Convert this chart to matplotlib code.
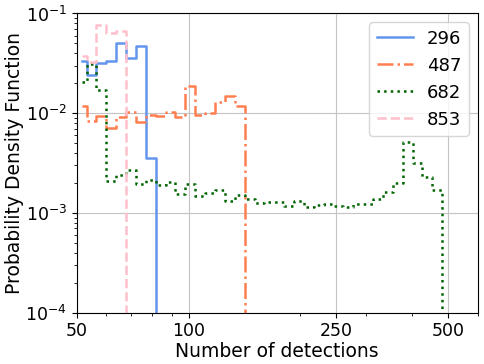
import numpy as np
import matplotlib
matplotlib.use("Agg")
import matplotlib.pyplot as plt
from matplotlib.ticker import FixedLocator, ScalarFormatter, NullFormatter

# log-spaced bin centres (number of detections)
centers = [51.55, 54.81, 58.27, 61.94, 65.85, 70.01, 74.43, 79.12, 84.12,
           89.43, 95.07, 101.07, 107.45, 114.23, 121.44, 129.10, 137.25,
           145.91, 155.12, 164.91, 175.32, 186.38, 198.14, 210.64, 223.94,
           238.07, 253.09, 269.06, 286.04, 304.09, 323.28, 343.68, 365.37,
           388.42, 412.93, 438.99, 466.69, 496.14]

pdf_296 = [0.0333, 0.0242, 0.0321, 0.0336, 0.0501, 0.0355, 0.0474, 0.00355, 0]
pdf_487 = [0.0118, 0.0084, 0.0093, 0.00718, 0.0091, 0.0103, 0.0081, 0.0096,
           0.0093, 0.0104, 0.0092, 0.0188, 0.0097, 0.00995, 0.0130, 0.0149,
           0.0118, 0]
pdf_682 = [0.0207, 0.0313, 0.0171, 0.00207, 0.00242, 0.00271, 0.00195, 0.00215,
           0.00192, 0.00206, 0.00155, 0.00195, 0.00149, 0.00160, 0.00168,
           0.00131, 0.00153, 0.00139, 0.00126, 0.00129, 0.00129, 0.00118,
           0.00133, 0.00114, 0.00121, 0.00123, 0.00118, 0.00115, 0.00124,
           0.00124, 0.00137, 0.00161, 0.00201, 0.00516, 0.00316, 0.00228,
           0.00168, 0]
pdf_853 = [0.0377, 0.0324, 0.0764, 0.0631, 0.067, 0]

series = [("296", pdf_296, "cornflowerblue", "-"),
          ("487", pdf_487, "coral", "-."),
          ("682", pdf_682, "darkgreen", ":"),
          ("853", pdf_853, "pink", "--")]

xticks = [50, 100, 250, 500]

fig, ax = plt.subplots(figsize=(4.85, 3.64), dpi=100)
fig.subplots_adjust(left=0.158, right=0.985, bottom=0.141, top=0.963)

for label, vals, col, ls in series:
    ax.step(centers[:len(vals)], vals, where="mid", color=col, ls=ls,
            lw=1.8, label=label)

ax.set_xscale("log")
ax.set_yscale("log")
ax.set_xlim(50, 600)
ax.set_ylim(1e-4, 1e-1)
ax.xaxis.set_major_locator(FixedLocator(xticks))
ax.xaxis.set_major_formatter(ScalarFormatter())
ax.xaxis.set_minor_formatter(NullFormatter())
ax.tick_params(labelsize=12.5)
ax.grid(True, color="#c4c4c4")

ax.set_xlabel("Number of detections", fontsize=13.5, labelpad=1)
ax.set_ylabel("Probability Density Function", fontsize=13.5, labelpad=1)
ax.legend(loc="upper right", fontsize=13)

fig.savefig("out.png", dpi=100)
